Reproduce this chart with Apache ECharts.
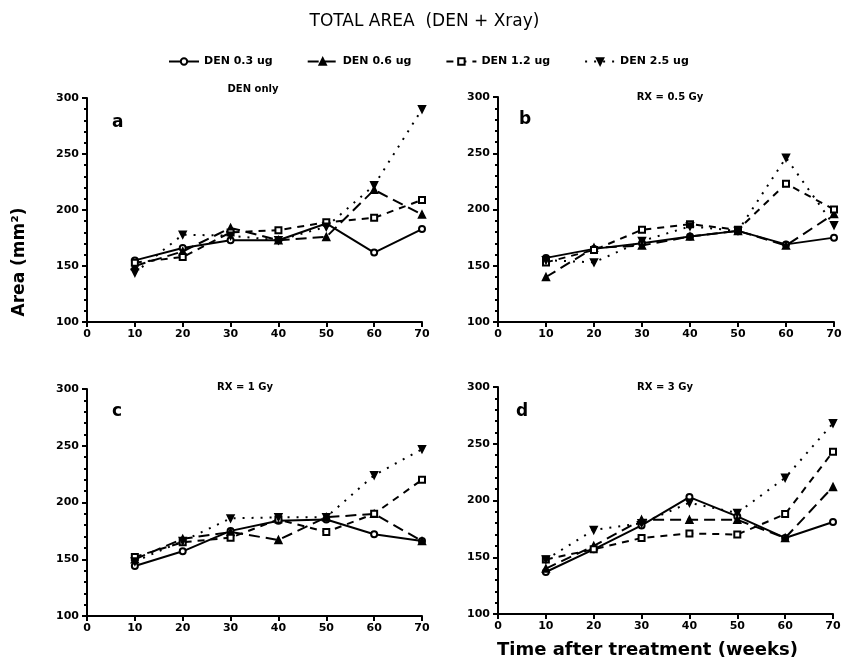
<!DOCTYPE html>
<html><head><meta charset="utf-8">
<script src="https://cdn.jsdelivr.net/npm/echarts@6/dist/echarts.min.js"></script>
<style>html,body{margin:0;padding:0;background:#fff}#c{width:849px;height:667px}</style>
</head><body><div id="c"></div>
<script>
var weeks = [10, 20, 30, 40, 50, 60, 70];
var seriesNames = ['DEN 0.3 ug', 'DEN 0.6 ug', 'DEN 1.2 ug', 'DEN 2.5 ug'];
var panelTitles = ['DEN only', 'RX = 0.5 Gy', 'RX = 1 Gy', 'RX = 3 Gy'];
var panelLetters = ['a', 'b', 'c', 'd'];
var xTicks = [0, 10, 20, 30, 40, 50, 60, 70];
var yTicks = [100, 150, 200, 250, 300];

// panel a: DEN only
var a_den03 = [155, 166, 173, 173, 188, 162, 183];
var a_den06 = [150, 163, 184, 173, 176, 218, 196];
var a_den12 = [153, 158, 180, 182, 189, 193, 209];
var a_den25 = [144, 178, 177, 173, 185, 222, 290];
// panel b: RX = 0.5 Gy
var b_den03 = [157, 165, 170, 176, 181, 169, 175];
var b_den06 = [140, 166, 168, 176, 181, 168, 196];
var b_den12 = [153, 164, 182, 187, 182, 223, 200];
var b_den25 = [155, 153, 172, 185, 181, 246, 186];
// panel c: RX = 1 Gy
var c_den03 = [144, 157, 175, 184, 185, 172, 166];
var c_den06 = [150, 168, 174, 167, 187, 190, 166];
var c_den12 = [152, 165, 169, 185, 174, 190, 220];
var c_den25 = [148, 166, 186, 187, 187, 224, 247];
// panel d: RX = 3 Gy
var d_den03 = [137, 157, 178, 203, 186, 167, 181];
var d_den06 = [140, 160, 183, 183, 183, 167, 212];
var d_den12 = [148, 157, 167, 171, 170, 188, 243];
var d_den25 = [148, 174, 180, 198, 189, 220, 268];

var panels = [
  [a_den03, a_den06, a_den12, a_den25],
  [b_den03, b_den06, b_den12, b_den25],
  [c_den03, c_den06, c_den12, c_den25],
  [d_den03, d_den06, d_den12, d_den25]
];

var grids = [
  {left: 87, top: 98, width: 335, height: 224},
  {left: 498, top: 97, width: 336, height: 225},
  {left: 87, top: 389, width: 335, height: 227},
  {left: 498, top: 387, width: 335, height: 227}
];
var titlePos = [[253, 84], [670, 92], [245, 382], [665, 382]];
var letterPos = [[112, 114], [519, 111], [112, 403], [516, 403]];

var styles = [
  {symbol: 'emptyCircle', size: 6, rotate: 0, type: 'solid'},
  {symbol: 'triangle', size: 7, rotate: 0, type: [11, 6]},
  {symbol: 'emptyRect', size: 6, rotate: 0, type: [7, 6]},
  {symbol: 'triangle', size: 7, rotate: 180, type: [2, 7]}
];

var FONT = 'DejaVu Sans, sans-serif';
var labelFont = {color: '#000', fontWeight: 'bold', fontSize: 11, fontFamily: FONT};

var xAxes = [], yAxes = [], series = [], graphics = [];
grids.forEach(function (g, i) {
  xAxes.push({
    type: 'value', gridIndex: i, min: 0, max: 70, interval: 10,
    axisLine: {onZero: false, lineStyle: {color: '#000', width: 2}},
    axisTick: {show: true, length: 5, lineStyle: {color: '#000', width: 2}},
    axisLabel: Object.assign({margin: 7, formatter: function (v) { return xTicks.indexOf(v) >= 0 ? String(v) : ''; }}, labelFont),
    splitLine: {show: false}
  });
  yAxes.push({
    type: 'value', gridIndex: i, min: 100, max: 300, interval: 50,
    axisLine: {show: true, onZero: false, lineStyle: {color: '#000', width: 2}},
    axisTick: {show: true, length: 5, lineStyle: {color: '#000', width: 2}},
    minorTick: {show: true, splitNumber: 5, length: 3, lineStyle: {color: '#000', width: 2}},
    axisLabel: Object.assign({margin: 8, formatter: function (v) { return yTicks.indexOf(v) >= 0 ? String(v) : ''; }}, labelFont),
    splitLine: {show: false}
  });
  panels[i].forEach(function (vals, k) {
    var st = styles[k];
    series.push({
      name: seriesNames[k], type: 'line', xAxisIndex: i, yAxisIndex: i,
      data: weeks.map(function (w, j) { return [w, vals[j]]; }),
      symbol: st.symbol, symbolSize: st.size, symbolRotate: st.rotate,
      showAllSymbol: true,
      lineStyle: {color: '#000', width: 2, type: st.type},
      itemStyle: {color: '#000', borderColor: '#000', borderWidth: 1.5},
      animation: false, z: 3
    });
  });
  graphics.push({
    type: 'text', x: titlePos[i][0], y: titlePos[i][1],
    style: {text: panelTitles[i], fill: '#000', font: 'bold 10px ' + FONT, align: 'center', verticalAlign: 'top'}
  });
  graphics.push({
    type: 'text', x: letterPos[i][0], y: letterPos[i][1],
    style: {text: panelLetters[i], fill: '#000', font: 'bold 17px ' + FONT, align: 'left', verticalAlign: 'top'}
  });
});

graphics.push({
  type: 'text', x: 20, y: 262, rotation: Math.PI / 2,
  style: {text: 'Area (mm²)', fill: '#000', font: 'bold 17px ' + FONT, align: 'center', verticalAlign: 'middle'}
});
graphics.push({
  type: 'text', x: 497, y: 641,
  style: {text: 'Time after treatment (weeks)', fill: '#000', font: 'bold 18px ' + FONT, align: 'left', verticalAlign: 'top'}
});

var chart = echarts.init(document.getElementById('c'), null, {renderer: 'canvas'});
chart.setOption({
  backgroundColor: '#fff',
  animation: false,
  title: {
    text: 'TOTAL AREA  (DEN + Xray)', left: 'center', top: 8,
    textStyle: {color: '#000', fontWeight: 'normal', fontSize: 17, fontFamily: FONT}
  },
  legend: {
    top: 51, left: 163, itemGap: 34, itemWidth: 30, itemHeight: 8,
    data: seriesNames,
    textStyle: {color: '#000', fontWeight: 'bold', fontSize: 11, fontFamily: FONT}
  },
  grid: grids,
  xAxis: xAxes,
  yAxis: yAxes,
  series: series,
  graphic: graphics
});
</script></body></html>
